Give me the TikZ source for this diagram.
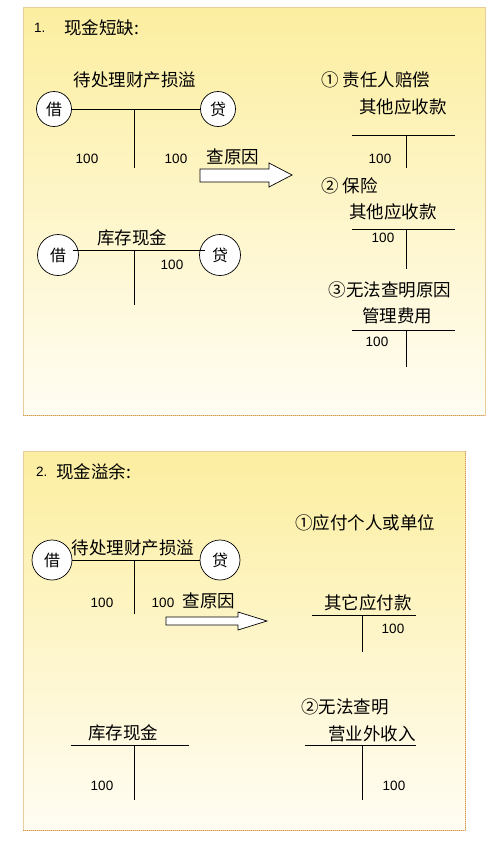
\documentclass[tikz,border=0pt]{standalone}
\usepackage{fontspec}
\newfontfamily\cjk{Noto Sans CJK SC}
\newfontfamily\numfont{Liberation Sans}
\usepackage{tikz}
\usetikzlibrary{calc}
\definecolor{panelTop}{HTML}{FCEEA0}
\definecolor{panelBot}{HTML}{FFFDF3}
\definecolor{panelEdge}{HTML}{EACB9C}
\definecolor{panelDot}{HTML}{D49A55}
\tikzset{
  cn/.style={font=\cjk\fontsize{17.5}{19}\selectfont, inner sep=0pt},
  num/.style={font=\numfont\fontsize{13.5}{15}\selectfont, inner sep=0pt},
  side/.style={circle, draw, fill=white, line width=0.7pt, minimum size=#1, inner sep=0pt, font=\cjk\fontsize{16}{18}\selectfont},
  acct/.style={line width=0.9pt},
  hollow/.style={draw, fill=white, line width=0.7pt},
  panel/.style={draw=panelEdge, line width=1pt, top color=panelTop, bottom color=panelBot},
  dotline/.style={draw=panelDot, line width=1pt, dash pattern=on 1pt off 1pt}
}
\begin{document}
\begin{tikzpicture}[x=1pt,y=-1pt]
\useasboundingbox (0,0) rectangle (500,841);
% panels
\path[panel] (23,7) rectangle (485,415);
\draw[dotline] (23,415) -- (485,415);
\path[panel] (23,451) rectangle (465,830);
\draw[dotline] (23,830) -- (465,830);
\draw[dotline] (465,451) -- (465,830);

%% ---- 1. cash shortage
\node[num, anchor=west] (n1) at (34,28) {1.};
\node[cn, anchor=west] (t1) at (64,28) {现金短缺:};

\node[cn] (dclA) at (135,80) {待处理财产损溢};
\node[side=35pt] (jieA) at (54,109) {借};
\node[side=35pt] (daiA) at (218,109) {贷};
\draw[acct] (jieA) -- (daiA);
\coordinate (topA) at (134,109);
\coordinate (botA) at (134,168);
\draw[acct] (topA) -- (botA);
\node[num] (a1) at (87,159) {100};
\node[num] (a2) at (176,159) {100};
\node[cn] (why1) at (233,157) {查原因};
\draw[hollow] (200,169) -- (269,169) -- (269,163) -- (292,175) -- (269,187) -- (269,182) -- (200,182) -- cycle;

\node[cn] (cashA) at (132,238) {库存现金};
\node[side=41pt] (jieB) at (58,255) {借};
\node[side=41pt] (daiB) at (220,255) {贷};
\draw[acct] (jieB.north east |- 0,250) -- (daiB.north west |- 0,250);
\coordinate (topB) at (134,250);
\coordinate (botB) at (134,305);
\draw[acct] (topB) -- (botB);
\node[num] (b1) at (172,265) {100};

% right side: three outcomes
\node[cn, anchor=west] (r1) at (321,80) {①\hspace{4pt}责任人赔偿};
\node[cn] (r1a) at (403,107) {其他应收款};
\coordinate (r1l) at (352,135);
\coordinate (r1r) at (455,135);
\coordinate (r1t) at (406,135);
\coordinate (r1b) at (406,168);
\draw[acct] (r1l) -- (r1r);
\draw[acct] (r1t) -- (r1b);
\node[num] (r1n) at (380,159) {100};

\node[cn, anchor=west] (r2) at (321,186) {②\hspace{4pt}保险};
\node[cn] (r2a) at (393,212) {其他应收款};
\coordinate (r2l) at (352,229);
\coordinate (r2r) at (455,229);
\coordinate (r2t) at (406,229);
\coordinate (r2b) at (406,269);
\draw[acct] (r2l) -- (r2r);
\draw[acct] (r2t) -- (r2b);
\node[num] (r2n) at (383,238) {100};

\node[cn] (r3) at (390,290) {③无法查明原因};
\node[cn] (r3a) at (397,316) {管理费用};
\coordinate (r3l) at (352,330);
\coordinate (r3r) at (455,330);
\coordinate (r3t) at (406,330);
\coordinate (r3b) at (406,367);
\draw[acct] (r3l) -- (r3r);
\draw[acct] (r3t) -- (r3b);
\node[num] (r3n) at (377,342) {100};

%% ---- 2. cash surplus
\node[num, anchor=west] (n2) at (36,472) {2.};
\node[cn, anchor=west] (t2) at (56,472) {现金溢余:};

\node[cn] (dclC) at (133,548) {待处理财产损溢};
\node[side=40pt] (jieC) at (52,560) {借};
\node[side=40pt] (daiC) at (220,560) {贷};
\draw[acct] (jieC) -- (daiC);
\coordinate (topC) at (134,560);
\coordinate (botC) at (134,614);
\draw[acct] (topC) -- (botC);
\node[num] (c1) at (102,603) {100};
\node[num] (c2) at (163,603) {100};
\node[cn] (why2) at (209,601) {查原因};
\draw[hollow] (166,617) -- (238,617) -- (238,612) -- (267,621) -- (238,630) -- (238,625) -- (166,625) -- cycle;

\node[cn] (s1) at (365,523) {①应付个人或单位};
\node[cn] (s1a) at (368,603) {其它应付款};
\coordinate (s1l) at (312,615);
\coordinate (s1r) at (416,615);
\coordinate (s1t) at (362,615);
\coordinate (s1b) at (362,652);
\draw[acct] (s1l) -- (s1r);
\draw[acct] (s1t) -- (s1b);
\node[num] (s1n) at (393,629) {100};

\node[cn] (s2) at (345,707) {②无法查明};
\node[cn] (s2a) at (372,734) {营业外收入};
\coordinate (s2l) at (305,745);
\coordinate (s2r) at (416,745);
\coordinate (s2t) at (362,745);
\coordinate (s2b) at (362,800);
\draw[acct] (s2l) -- (s2r);
\draw[acct] (s2t) -- (s2b);
\node[num] (s2n) at (394,786) {100};

\node[cn] (cashC) at (123,733) {库存现金};
\coordinate (cl) at (71,745);
\coordinate (cr) at (189,745);
\coordinate (ct) at (134,745);
\coordinate (cb) at (134,800);
\draw[acct] (cl) -- (cr);
\draw[acct] (ct) -- (cb);
\node[num] (cn1) at (102,786) {100};
\end{tikzpicture}
\end{document}
